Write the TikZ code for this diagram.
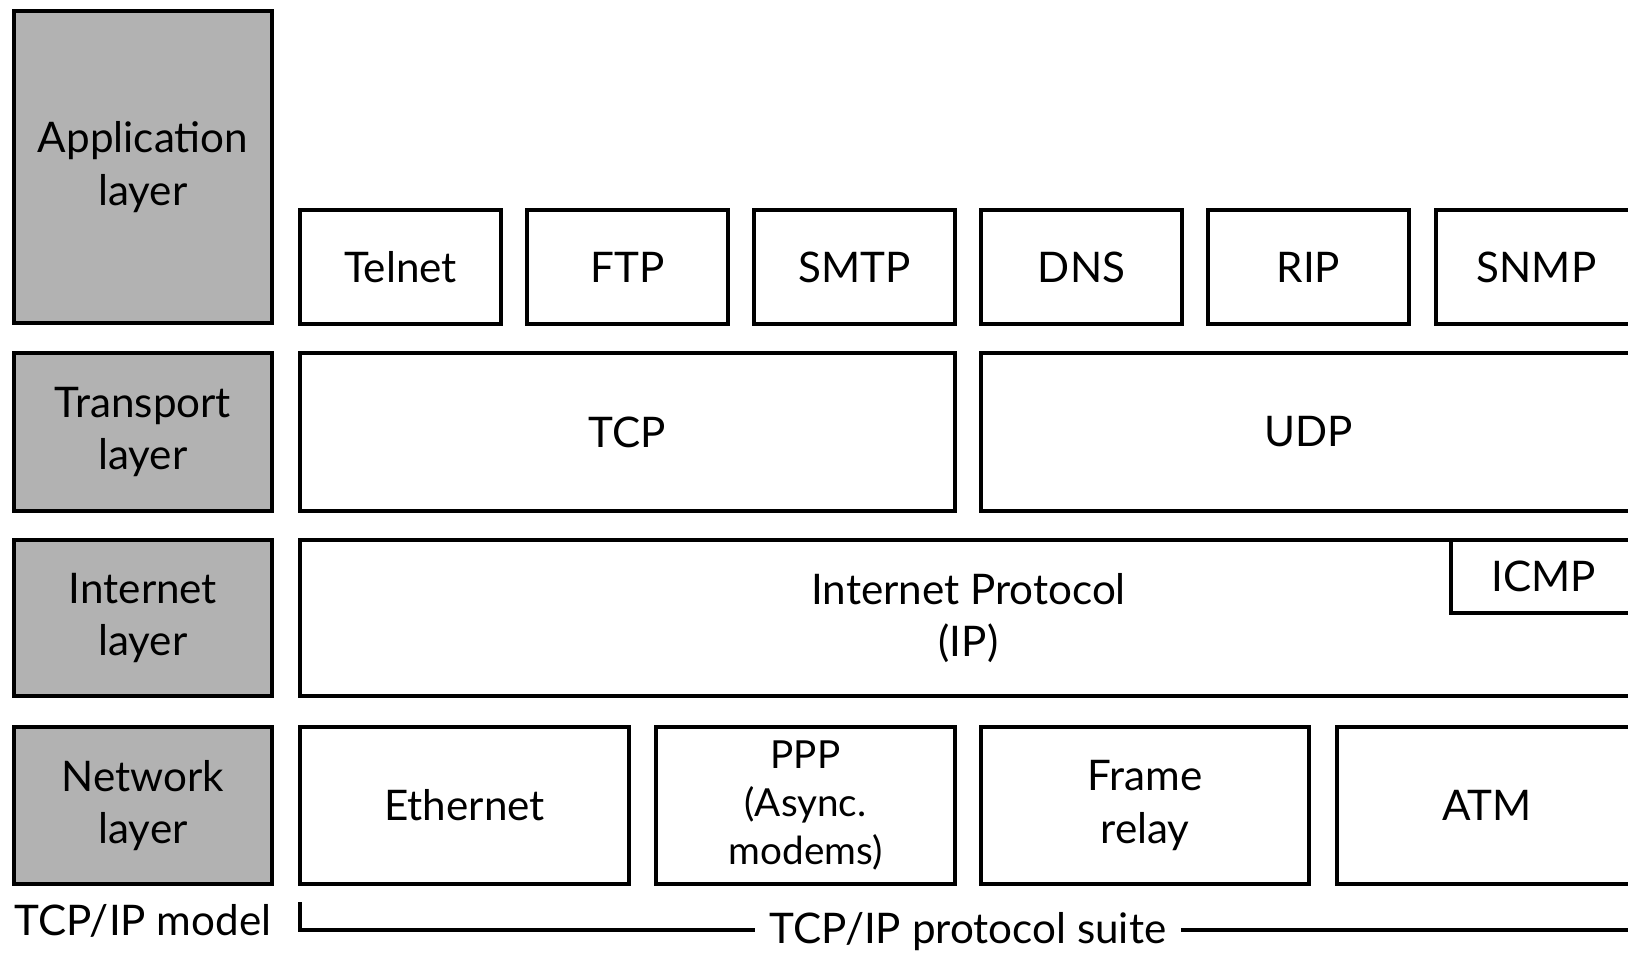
\documentclass[tikz,border=0pt]{standalone}
\usepackage{fontspec}
\setmainfont{Lato}
\begin{document}
\begin{tikzpicture}[x=1cm,y=1cm,
  txt/.style={font=\fontsize{12}{15}\selectfont, align=center},
  layerbox/.style={draw, line width=1.1pt, fill=black!30, inner sep=0pt, txt},
  protobox/.style={draw, line width=1.1pt, fill=white, inner sep=0pt, txt},
  smalltxt/.style={font=\fontsize{11}{13.6}\selectfont, align=center},
  bracket/.style={line width=1.1pt}]
\useasboundingbox (0,0) rectangle (16.28,-9.53);
\clip (0,0) rectangle (16.28,-9.53);

% TCP/IP model layers
\node[layerbox, minimum width=2.58cm, minimum height=3.12cm] (app) at (1.43,-1.67) {Application\\layer};
\node[layerbox, minimum width=2.58cm, minimum height=1.58cm] (trans) at (1.43,-4.32) {Transport\\layer};
\node[layerbox, minimum width=2.58cm, minimum height=1.56cm] (inet) at (1.43,-6.18) {Internet\\layer};
\node[layerbox, minimum width=2.58cm, minimum height=1.57cm] (net) at (1.43,-8.055) {Network\\layer};

% Application protocols
\node[protobox, minimum width=2.01cm, minimum height=1.14cm] (telnet) at (4.005,-2.67) {Telnet};
\node[protobox, minimum width=2.01cm, minimum height=1.14cm] (ftp) at (6.275,-2.67) {FTP};
\node[protobox, minimum width=2.01cm, minimum height=1.14cm] (smtp) at (8.545,-2.67) {SMTP};
\node[protobox, minimum width=2.01cm, minimum height=1.14cm] (dns) at (10.815,-2.67) {DNS};
\node[protobox, minimum width=2.01cm, minimum height=1.14cm] (rip) at (13.085,-2.67) {RIP};
\node[protobox, minimum width=2.01cm, minimum height=1.14cm] (snmp) at (15.365,-2.67) {SNMP};

% Transport protocols
\node[protobox, minimum width=6.55cm, minimum height=1.58cm] (tcp) at (6.275,-4.32) {TCP};
\node[protobox, minimum width=6.56cm, minimum height=1.58cm] (udp) at (13.09,-4.32) {UDP};

% Internet protocols
\node[protobox, minimum width=13.37cm, minimum height=1.56cm] (ip) at (9.685,-6.18) {Internet Protocol\\(IP)};
\node[protobox, minimum width=1.86cm, minimum height=0.73cm] (icmp) at (15.44,-5.765) {ICMP};

% Network access protocols
\node[protobox, minimum width=3.29cm, minimum height=1.57cm] (eth) at (4.645,-8.055) {Ethernet};
\node[protobox, minimum width=2.99cm, minimum height=1.57cm, smalltxt] (ppp) at (8.055,-8.055) {PPP\\(Async.\\modems)};
\node[protobox, minimum width=3.28cm, minimum height=1.57cm] (frame) at (11.45,-8.055) {Frame\\relay};
\node[protobox, minimum width=3.00cm, minimum height=1.57cm] (atm) at (14.87,-8.055) {ATM};

% Captions and protocol-suite bracket
\node[txt] (model) at (1.43,-9.21) {TCP/IP model};
\node[txt, fill=white, inner xsep=4pt, inner ysep=1pt] (suite) at (9.68,-9.32) {TCP/IP protocol suite};
\coordinate (brTop) at (3.00,-9.02);
\coordinate (brCorner) at (3.00,-9.30);
\coordinate (brEnd) at (16.5,-9.30);
\draw[bracket] (brTop) -- (brCorner) -- (suite.west |- brCorner);
\draw[bracket] (suite.east |- brCorner) -- (brEnd);
\end{tikzpicture}
\end{document}
